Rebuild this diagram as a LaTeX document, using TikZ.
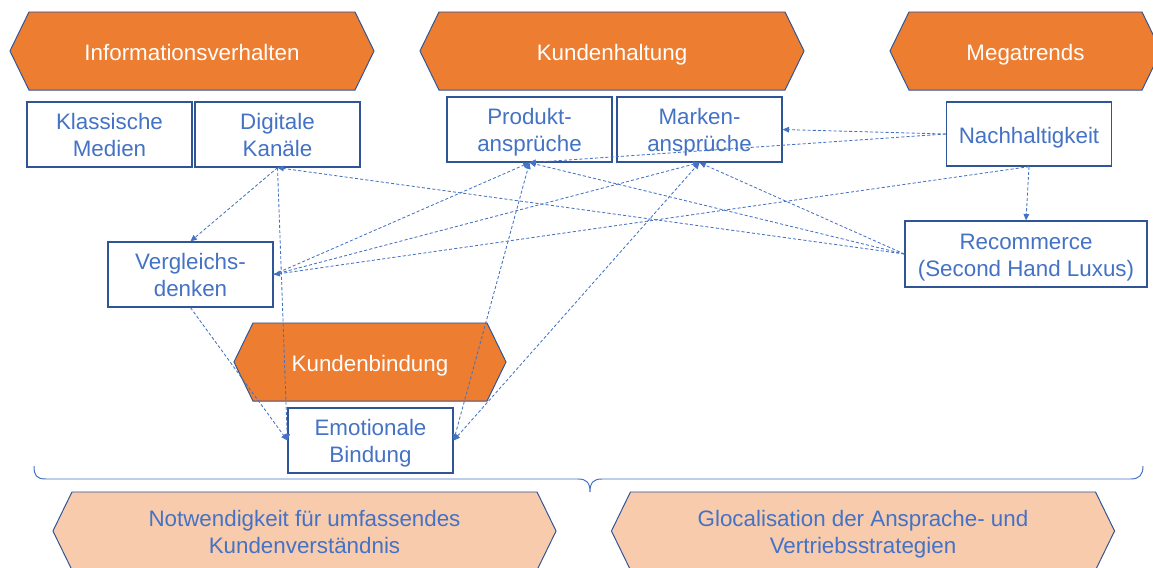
\documentclass[tikz,border=0pt]{standalone}
\usepackage{fontspec}
\setmainfont{Liberation Sans}
\usetikzlibrary{shapes.symbols,arrows.meta}
\definecolor{txtblue}{HTML}{4472C4}
\definecolor{lineblue}{HTML}{2F5597}
\definecolor{headorange}{HTML}{ED7D31}
\definecolor{goalorange}{HTML}{F8CBAD}

\begin{document}
\begin{tikzpicture}[
    x=0.025cm, y=-0.025cm,
    every node/.style={font=\fontsize{15.9}{19.2}\selectfont, align=center, inner sep=1pt, text height=12.8pt, text depth=0pt},
    two lines/.style={text height=31.6pt},
    head node/.style={signal, signal to=east and west, signal pointer angle=128, draw=lineblue, line width=0.7pt, fill=headorange, text=white, minimum height=1.95cm},
    goal node/.style={head node, two lines, fill=goalorange, text=txtblue},
    item node/.style={rectangle, draw=lineblue, line width=0.9pt, fill=white, text=txtblue, minimum width=4.125cm, minimum height=1.625cm},
    link edge/.style={txtblue, line width=0.6pt, dash pattern=on 2.2pt off 1.5pt, -{Triangle[length=4.5pt,width=4pt]}},
    link both/.style={link edge, {Triangle[length=4.5pt,width=4pt]}-{Triangle[length=4.5pt,width=4pt]}}
]
\useasboundingbox (0,0) rectangle (1153,567);
\clip (0,0) rectangle (1153,567);

% Oberbegriffe
\node[head node, minimum width=9.1cm]   (info)    at (192, 51)    {Informationsverhalten};
\node[head node, minimum width=9.6cm]   (haltung) at (612, 51)    {Kundenhaltung};
\node[head node, minimum width=6.775cm] (mega)    at (1025.5, 51) {Megatrends};
\node[head node, minimum width=6.8cm]   (bindung) at (370, 362)   {Kundenbindung};

% Einflussfaktoren
\node[item node, two lines] (klassisch) at (109.5, 134.5) {Klassische\\Medien};
\node[item node, two lines] (digital)   at (277.5, 134.5) {Digitale\\Kanäle};
\node[item node, two lines] (produkt)   at (529.5, 129.5) {Produkt-\\ansprüche};
\node[item node, two lines] (marken)    at (699.5, 129.5) {Marken-\\ansprüche};
\node[item node, minimum height=1.6cm] (nachhalt) at (1029, 134) {Nachhaltigkeit};
\node[item node, two lines, minimum width=6.05cm, minimum height=1.65cm] (recommerce) at (1026, 254) {Recommerce\\(Second Hand Luxus)};
\node[item node, two lines] (vergleich) at (190.5, 274.5) {Vergleichs-\\denken};
\node[item node, two lines] (emotional) at (370.5, 440.5) {Emotionale\\Bindung};

% Schlussfolgerungen
\node[goal node, minimum width=12.575cm] (kundenv) at (304.5, 531) {Notwendigkeit für umfassendes\\Kundenverständnis};
\node[goal node, minimum width=12.575cm] (glocal)  at (863, 531)   {Glocalisation der Ansprache- und\\Vertriebsstrategien};

% Klammer
\draw[txtblue, line width=0.7pt] (34,466) .. controls (34,475) and (36,479) .. (46,479) -- (578,479)
    .. controls (586,479) and (590,482) .. (590,492) .. controls (590,482) and (594,479) .. (602,479)
    -- (1131,479) .. controls (1139,479) and (1143,475) .. (1143,466);

% Beziehungen
\draw[link edge] (digital.south) -- (vergleich.north);
\draw[link edge] (digital.south) -- (emotional.west);
\draw[link edge] (vergleich.south) -- (emotional.west);
\draw[link edge] (recommerce.west) -- (digital.south);
\draw[link edge] (recommerce.west) -- (produkt.south);
\draw[link edge] (recommerce.west) -- (marken.south);
\draw[link edge] (nachhalt.west) -- (marken.east);
\draw[link edge] (nachhalt.west) -- (produkt.south);
\draw[link edge] (nachhalt.south) -- (recommerce.north);
\draw[link edge] (nachhalt.south) -- (vergleich.east);
\draw[link edge] (vergleich.east) -- (produkt.south);
\draw[link edge] (vergleich.east) -- (marken.south);
\draw[link both] (emotional.east) -- (produkt.south);
\draw[link both] (emotional.east) -- (marken.south);

\end{tikzpicture}
\end{document}
